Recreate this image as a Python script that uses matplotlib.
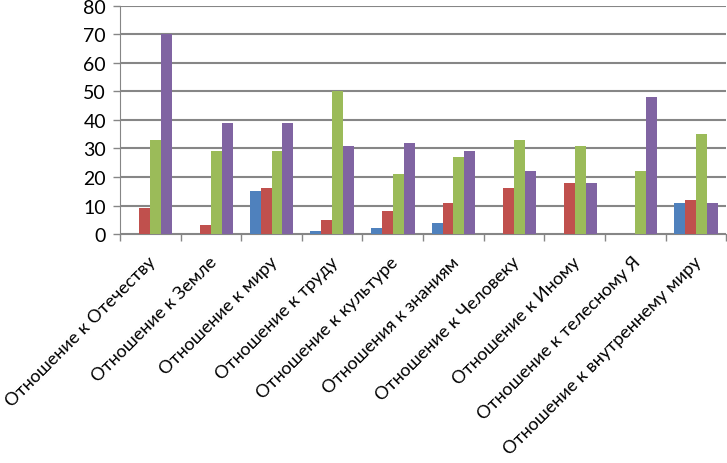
import numpy as np
import matplotlib
matplotlib.use("Agg")
import matplotlib.pyplot as plt
import matplotlib.transforms as mtransforms

categories = ["Отношение к Отечеству", "Отношение к Земле", "Отношение к миру",
              "Отношение к труду", "Отношение к культуре", "Отношения к знаниям",
              "Отношение к Человеку", "Отношение к Иному", "Отношение к телесному Я",
              "Отношение к внутреннему миру"]
series_blue = [0, 0, 15, 1, 2, 4, 0, 0, 0, 11]
series_red = [9, 3, 16, 5, 8, 11, 16, 18, 0, 12]
series_green = [33, 29, 29, 50, 21, 27, 33, 31, 22, 35]
series_purple = [70, 39, 39, 31, 32, 29, 22, 18, 48, 11]
yticks = [0, 10, 20, 30, 40, 50, 60, 70, 80]

colors = ["#4F81BD", "#C0504D", "#9BBB59", "#8064A2"]
series = [series_blue, series_red, series_green, series_purple]

plt.rcParams['font.family'] = ['Lato', 'DejaVu Sans']

fig = plt.figure(figsize=(7.27, 4.64), dpi=100)
ax = fig.add_axes([0.165, 0.4935, 0.834, 0.4915])

x = np.arange(len(categories))
w = 0.18
for i, (vals, c) in enumerate(zip(series, colors)):
    ax.bar(x + (i - 1.5) * w, vals, width=w, color=c, zorder=3)

ax.set_xlim(-0.5, len(categories) - 0.5)
ax.set_ylim(0, 80)
ax.set_yticks(yticks)
ax.tick_params(axis='y', labelsize=14, length=5, color='#868686', width=1, pad=5)
ax.yaxis.grid(True, color='#868686', linewidth=1.5, zorder=0)

# category ticks sit between the groups
ax.set_xticks(np.arange(len(categories) + 1) - 0.5)
ax.set_xticklabels([])
ax.tick_params(axis='x', length=5, color='#868686', width=1)
offset = mtransforms.ScaledTranslation(3 / 100, -25 / 100, fig.dpi_scale_trans)
for xi, lab in zip(x, categories):
    ax.text(xi, 0, lab, rotation=45, ha='right', va='center', rotation_mode='anchor',
            fontsize=13, transform=ax.get_xaxis_transform() + offset)

for s in ['top', 'right']:
    ax.spines[s].set_visible(False)
ax.spines['left'].set_color('#868686')
ax.spines['bottom'].set_color('#868686')

fig.savefig("out.png", dpi=100)
